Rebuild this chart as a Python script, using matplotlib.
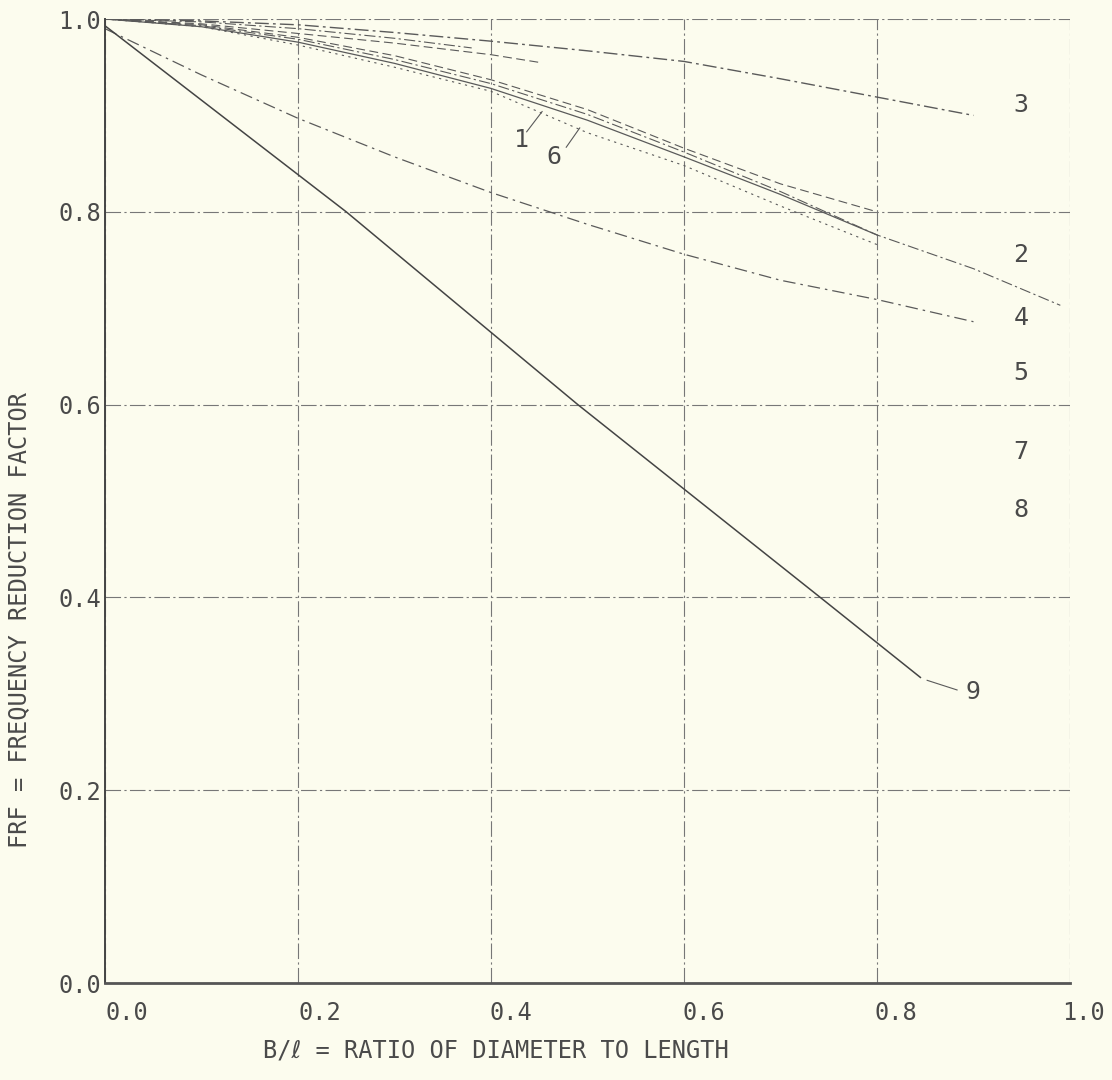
import matplotlib.pyplot as plt
import matplotlib.transforms as mtransforms

# curve data (x = B/l, y = FRF)
x3 = [0.0, 0.1, 0.2, 0.3, 0.4, 0.5, 0.6, 0.7, 0.8, 0.9]
y3 = [1.0, 0.998, 0.994, 0.986, 0.977, 0.967, 0.956, 0.938, 0.919, 0.900]

x8 = [0.0, 0.1, 0.2, 0.3, 0.38]
y8 = [1.0, 0.997, 0.990, 0.980, 0.970]

x7 = [0.0, 0.1, 0.2, 0.3, 0.4, 0.45]
y7 = [1.0, 0.995, 0.985, 0.975, 0.963, 0.955]

x5 = [0.0, 0.1, 0.2, 0.3, 0.4, 0.5, 0.6, 0.7, 0.8]
y5 = [1.0, 0.994, 0.981, 0.962, 0.937, 0.906, 0.866, 0.829, 0.800]

x1 = [0.0, 0.1, 0.2, 0.3, 0.4, 0.5, 0.6, 0.7, 0.8]
y1 = [1.0, 0.992, 0.976, 0.954, 0.928, 0.895, 0.857, 0.818, 0.776]

x2 = [0.0, 0.1, 0.2, 0.3, 0.4, 0.5, 0.6, 0.7, 0.8, 0.9, 0.99]
y2 = [1.0, 0.993, 0.979, 0.958, 0.933, 0.901, 0.862, 0.821, 0.776, 0.741, 0.703]

x6 = [0.0, 0.1, 0.2, 0.3, 0.4, 0.5, 0.6, 0.7, 0.8]
y6 = [1.0, 0.992, 0.973, 0.950, 0.925, 0.882, 0.848, 0.806, 0.766]

x4 = [0.0, 0.1, 0.2, 0.3, 0.4, 0.5, 0.6, 0.7, 0.8, 0.9]
y4 = [0.99, 0.942, 0.897, 0.857, 0.820, 0.787, 0.756, 0.729, 0.709, 0.686]

x9 = [0.0, 0.25, 0.49, 0.745, 0.845]
y9 = [0.993, 0.80, 0.60, 0.397, 0.317]

# curve number labels (x, y, text)
lab_x = [0.949, 0.949, 0.949, 0.949, 0.949, 0.949, 0.432, 0.465, 0.900]
lab_y = [0.911, 0.755, 0.690, 0.633, 0.551, 0.491, 0.874, 0.857, 0.302]
lab_t = ['3', '2', '4', '5', '7', '8', '1', '6', '9']

xticks = [0.0, 0.2, 0.4, 0.6, 0.8, 1.0]
yticks = [0.0, 0.2, 0.4, 0.6, 0.8, 1.0]
xtick_labels = ['0.0', '0.2', '0.4', '0.6', '0.8', '1.0']
ytick_labels = ['0.0', '0.2', '0.4', '0.6', '0.8', '1.0']

bg = '#fcfcee'
ink = '#5a5a5a'
txt = '#4a4a4a'

# plotter lettering is monospaced
plt.rcParams['font.family'] = ['DejaVu Sans Mono', 'DejaVu Sans']

fig = plt.figure(figsize=(11.12, 10.80), dpi=100, facecolor=bg)
ax = fig.add_axes([0.0944, 0.0898, 0.8678, 0.8926], facecolor=bg)

dashdot = (0, (10, 3, 2, 3))
ax.plot(x3, y3, color=ink, lw=1.0, ls=dashdot)
ax.plot(x8, y8, color=ink, lw=0.8, ls=dashdot)
ax.plot(x7, y7, color=ink, lw=0.8, ls=(0, (8, 4)))
ax.plot(x5, y5, color=ink, lw=0.8, ls=(0, (8, 4)))
ax.plot(x1, y1, color=ink, lw=0.9)
ax.plot(x2, y2, color=ink, lw=0.8, ls=dashdot)
ax.plot(x6, y6, color=ink, lw=0.8, ls=(0, (2, 4)))
ax.plot(x4, y4, color=ink, lw=0.9, ls=(0, (10, 4, 2, 4)))
ax.plot(x9, y9, color='#444444', lw=1.1)

for xx, yy, t in zip(lab_x, lab_y, lab_t):
    ax.text(xx, yy, t, fontsize=18, color=txt, ha='center', va='center')

# leader lines for 1, 6 and 9
ax.plot([0.437, 0.453], [0.883, 0.904], color=ink, lw=0.8)
ax.plot([0.478, 0.492], [0.867, 0.887], color=ink, lw=0.8)
ax.plot([0.852, 0.883], [0.314, 0.304], color=ink, lw=0.8)

ax.set_xlim(0, 1.0)
ax.set_ylim(0, 1.0)
ax.set_xticks(xticks)
ax.set_yticks(yticks)
ax.set_xticklabels(xtick_labels)
ax.set_yticklabels(ytick_labels)
ax.tick_params(length=0, labelsize=17, labelcolor=txt)
ax.tick_params(axis='x', pad=13)
ax.tick_params(axis='y', pad=3)

# plotter labels sit a bit right of the grid lines
shifts = [0.22, 0.22, 0.20, 0.20, 0.19, 0.14]
for lbl, dx in zip(ax.get_xticklabels(), shifts):
    offset = mtransforms.ScaledTranslation(dx, 0, fig.dpi_scale_trans)
    lbl.set_transform(lbl.get_transform() + offset)

ax.grid(True, color='#777777', lw=0.8, ls=(0, (14, 3, 2, 3)))
for s in ['top', 'right']:
    ax.spines[s].set_visible(False)
ax.spines['left'].set_color('#444444')
ax.spines['left'].set_linewidth(1.4)
ax.spines['bottom'].set_color('#555555')
ax.spines['bottom'].set_linewidth(2.0)

fig.text(0.446, 0.027, 'B/\u2113 = RATIO OF DIAMETER TO LENGTH', fontsize=17,
         color=txt, ha='center', va='center')
fig.text(0.017, 0.426, 'FRF = FREQUENCY REDUCTION FACTOR', fontsize=17,
         color=txt, ha='center', va='center', rotation=90)

fig.savefig('out.png', dpi=100, facecolor=bg)
